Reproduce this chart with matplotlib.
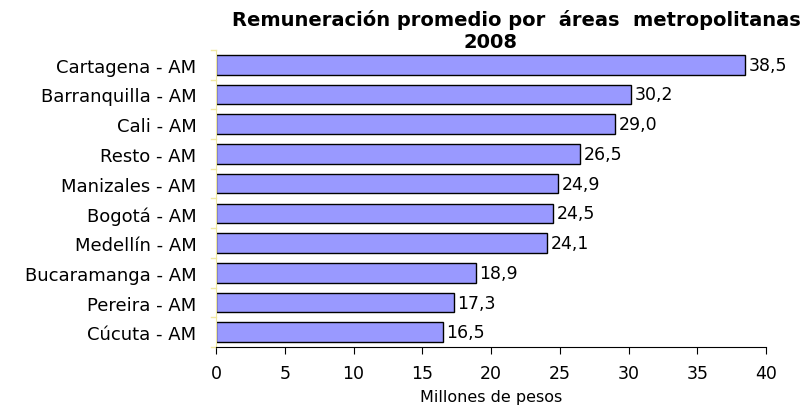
import matplotlib.pyplot as plt
import numpy as np

plt.rcParams['font.family'] = ['DejaVu Sans']

ciudades = ["Cartagena - AM", "Barranquilla - AM", "Cali - AM", "Resto - AM",
            "Manizales - AM", "Bogotá - AM", "Medellín - AM", "Bucaramanga - AM",
            "Pereira - AM", "Cúcuta - AM"]
valores = [38.5, 30.2, 29.0, 26.5, 24.9, 24.5, 24.1, 18.9, 17.3, 16.5]
ticks_x = [0, 5, 10, 15, 20, 25, 30, 35, 40]

fig = plt.figure(figsize=(8.09, 4.10), dpi=100, facecolor="white")
ax = fig.add_axes([0.267, 0.151, 0.68, 0.725])

y = np.arange(len(ciudades))
ax.barh(y, valores, height=0.66, color="#9999FF", edgecolor="black", linewidth=1)

for yi, v in zip(y, valores):
    ax.text(v + 0.25, yi, f"{v:.1f}".replace(".", ","), va="center", ha="left", fontsize=12.5)

ax.set_ylim(len(ciudades) - 0.5, -0.5)
ax.set_xlim(0, 40)
ax.set_yticks(y)
ax.set_yticklabels(ciudades, fontsize=13)
ax.set_xticks(ticks_x)
ax.set_xticklabels([str(t) for t in ticks_x], fontsize=12.5)
ax.set_xlabel("Millones de pesos", fontsize=11.5, labelpad=5)

ax.spines["top"].set_visible(False)
ax.spines["right"].set_visible(False)
ax.spines["left"].set_edgecolor("#F0E8A0")
ax.spines["bottom"].set_edgecolor("black")
ax.tick_params(axis="y", length=0, pad=14)
ax.tick_params(axis="x", direction="out", length=5, color="black", pad=7)

# ticks amarillos entre categorias
for b in np.arange(-0.5, len(ciudades), 1.0):
    ax.plot([-0.35, 0], [b, b], color="#F0E8A0", lw=1, clip_on=False)

fig.text(0.638, 0.952, "Remuneración promedio por  áreas  metropolitanas",
         ha="center", va="center", fontsize=14, fontweight="bold")
fig.text(0.606, 0.897, "2008", ha="center", va="center", fontsize=14, fontweight="bold")

plt.savefig("out.png", dpi=100)
